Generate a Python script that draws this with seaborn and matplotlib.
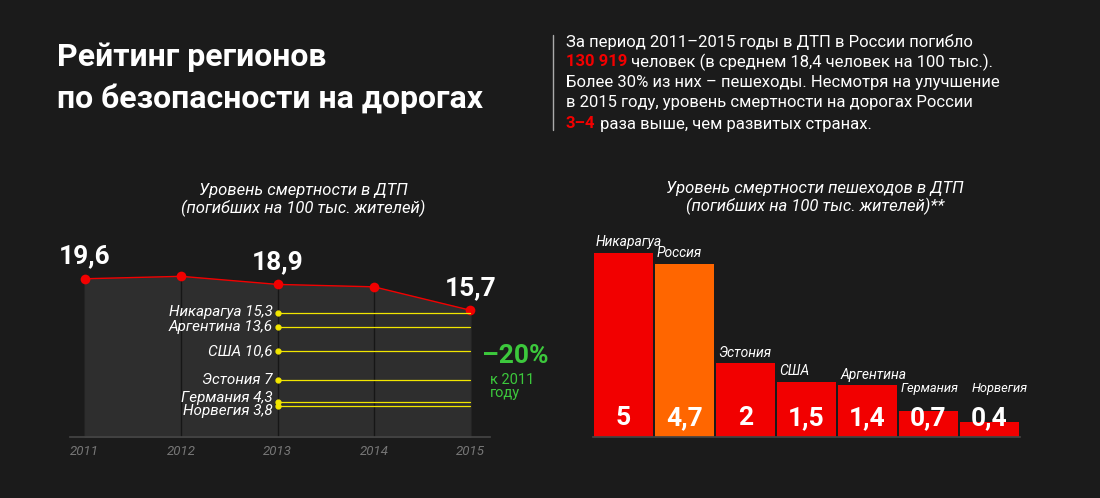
import matplotlib
matplotlib.use("Agg")
import matplotlib.pyplot as plt
import seaborn as sns
import pandas as pd

# --- data
years = [2011, 2012, 2013, 2014, 2015]
deaths = [19.6, 19.9, 18.9, 18.6, 15.7]
labelled = {2011: "19,6", 2013: "18,9", 2015: "15,7"}

ref_countries = ["Никарагуа", "Аргентина", "США", "Эстония", "Германия", "Норвегия"]
ref_values = [15.3, 13.6, 10.6, 7, 4.3, 3.8]
ref_labels = ["15,3", "13,6", "10,6", "7", "4,3", "3,8"]

ped_countries = ["Никарагуа", "Россия", "Эстония", "США", "Аргентина", "Германия", "Норвегия"]
ped_values = [5, 4.7, 2, 1.5, 1.4, 0.7, 0.4]
ped_labels = ["5", "4,7", "2", "1,5", "1,4", "0,7", "0,4"]

BG = "#1b1b1b"
RED = "#f20000"
ORANGE = "#ff6600"
YELLOW = "#f2e600"
GREEN = "#3cc83c"
FONT = "Roboto"
W, H = 1100, 498

sns.set_theme(style="dark", rc={"font.family": FONT})
fig = plt.figure(figsize=(W / 100, H / 100), dpi=100, facecolor=BG)
renderer = fig.canvas.get_renderer()


def fx(px):
    return px / W


def fy(py):
    return 1 - py / H


def run_text(x_px, y_px, parts):
    # draw consecutive pieces of text on one line, each with its own colour
    x = x_px
    for txt, color, weight in parts:
        t = fig.text(fx(x), fy(y_px), txt, color=color, fontsize=12, fontweight=weight, va="center")
        x += t.get_window_extent(renderer).width


# --- header
fig.text(fx(57), fy(78), "Рейтинг регионов\nпо безопасности на дорогах", color="white",
         fontsize=23, fontweight="bold", va="center", ha="left", linespacing=1.45)
fig.add_artist(plt.Line2D([fx(553), fx(553)], [fy(35), fy(130)], color="#aaaaaa", lw=1))
run_text(566, 42, [("За период 2011–2015 годы в ДТП в России погибло", "white", "normal")])
run_text(566, 62, [("130 919", RED, "bold"),
                   (" человек (в среднем 18,4 человек на 100 тыс.).", "white", "normal")])
run_text(566, 83, [("Более 30% из них – пешеходы. Несмотря на улучшение", "white", "normal")])
run_text(566, 103, [("в 2015 году, уровень смертности на дорогах России", "white", "normal")])
run_text(566, 124, [("3–4", RED, "bold"), (" раза выше, чем развитых странах.", "white", "normal")])

# --- left: line chart
ax = fig.add_axes([fx(70), fy(437), fx(420), (437 - 240) / H])
ax.set_facecolor(BG)
df = pd.DataFrame({"year": years, "deaths": deaths})
ax.fill_between(years, deaths, color="#2e2e2e", zorder=0)
for yr in years[1:-1]:
    ax.axvline(yr, ymax=df.loc[df.year == yr, "deaths"].iloc[0] / 24.4, color="#161616", lw=1)
sns.lineplot(data=df, x="year", y="deaths", color=RED, lw=1, marker="o", markersize=7,
             markeredgewidth=0, ax=ax)
for yr, val in zip(years, deaths):
    if yr in labelled:
        ax.text(yr, val + 1.3, labelled[yr], color="white", fontsize=19, fontweight="bold",
                ha="center", va="bottom")
label_offsets = [0.2, 0, 0, 0, 0.5, -0.6]
for name, val, lab, off in zip(ref_countries, ref_values, ref_labels, label_offsets):
    ax.plot([2013, 2015], [val, val], color=YELLOW, lw=0.9)
    ax.plot(2013, val, "o", color=YELLOW, markersize=3.5)
    ax.text(2012.95, val + off, f"{name} {lab}", color="white", fontsize=11, style="italic",
            ha="right", va="center")
ax.text(2015.12, 10.0, "–20%", color=GREEN, fontsize=19, fontweight="bold", ha="left", va="center")
ax.text(2015.2, 7.9, "к 2011\nгоду", color=GREEN, fontsize=10.5, ha="left", va="top", linespacing=0.9)
ax.set_xlim(2011 - 15 / 98, 2015 + 20 / 98)
ax.set_ylim(0, 24.4)
ax.set_xticks(years)
ax.set_xticklabels([str(y) for y in years], color="#777777", fontsize=9.5, style="italic")
ax.set_yticks([])
ax.set_xlabel("")
ax.set_ylabel("")
ax.tick_params(axis="x", length=0, pad=6)
for s in ["top", "right", "left"]:
    ax.spines[s].set_visible(False)
ax.spines["bottom"].set_color("#444444")
ax.grid(False)
fig.text(fx(303), fy(200), "Уровень смертности в ДТП\n(погибших на 100 тыс. жителей)", color="white",
         fontsize=12, style="italic", ha="center", va="center")

# --- right: bar chart
bx = fig.add_axes([fx(593), fy(437), fx(427), (437 - 240) / H])
bx.set_facecolor(BG)
bdf = pd.DataFrame({"country": ped_countries, "value": ped_values})
palette = [ORANGE if c == "Россия" else RED for c in ped_countries]
sns.barplot(data=bdf, x="country", y="value", hue="country", palette=palette, width=0.97,
            legend=False, ax=bx, saturation=1, edgecolor="none", linewidth=0)
for i, (c, v, lab) in enumerate(zip(ped_countries, ped_values, ped_labels)):
    bx.text(i, 0.52, lab, color="white", fontsize=19, fontweight="bold", ha="center", va="center")
    bx.text(i - (0.45 if i < 6 else 0.3), max(v, 1.05) + 0.1, c, color="white",
            fontsize=10 if i < 5 else 9.3, style="italic", ha="left", va="bottom")
bx.set_xlim(-0.5, 6.5)
bx.set_ylim(0, 5.35)
bx.set_xticks([])
bx.set_yticks([])
bx.set_xlabel("")
bx.set_ylabel("")
for s in ["top", "right", "left"]:
    bx.spines[s].set_visible(False)
bx.spines["bottom"].set_color("#444444")
bx.grid(False)
fig.text(fx(815), fy(198), "Уровень смертности пешеходов в ДТП\n(погибших на 100 тыс. жителей)**",
         color="white", fontsize=12, style="italic", ha="center", va="center")

fig.savefig("out.png", dpi=100, facecolor=BG)
